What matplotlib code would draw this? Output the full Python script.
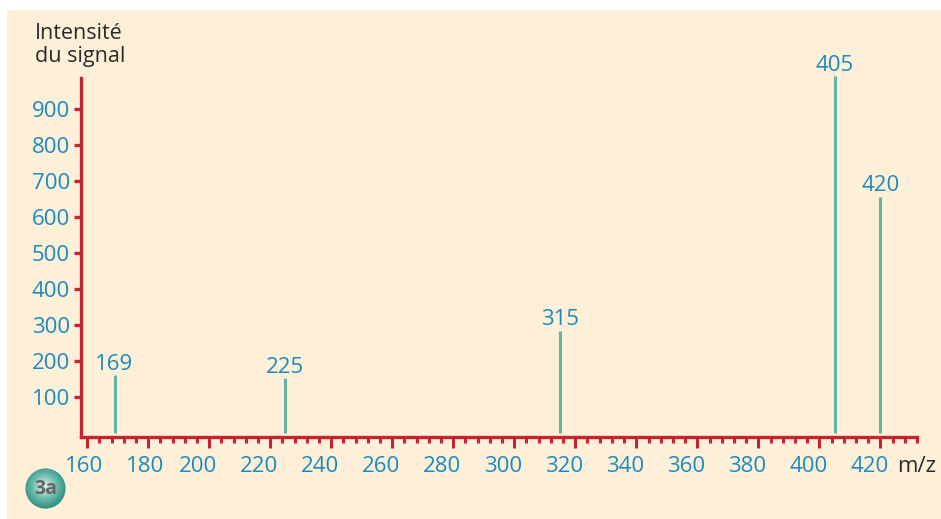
import matplotlib.pyplot as plt
from matplotlib.patches import Circle
from matplotlib.ticker import MultipleLocator
from matplotlib.transforms import ScaledTranslation
from matplotlib.colors import LinearSegmentedColormap
import numpy as np

# mass spectrum peaks (m/z, signal)
peak_mz = [169, 225, 315, 405, 420]
peak_int = [160, 152, 283, 990, 655]
peak_labels = ["169", "225", "315", "405", "420"]

y_ticks = [100, 200, 300, 400, 500, 600, 700, 800, 900]
x_ticks = [160, 180, 200, 220, 240, 260, 280, 300, 320, 340, 360, 380, 400, 420]

CREAM = "#FEF0D8"
RED = "#C62232"
BLUE = "#1A8BBF"
TEAL = "#62B5A6"
DARK = "#2B2B2B"
FS = 16

plt.rcParams['font.family'] = ['Open Sans', 'DejaVu Sans']
W, H = 941, 519
fig = plt.figure(figsize=(W / 100, H / 100), dpi=100)
fig.patch.set_facecolor("white")

# cream panel behind everything
bg = fig.add_axes([7 / W, 0, 1 - 7 / W, 1 - 10 / H])
bg.set_facecolor(CREAM)
bg.set_xticks([])
bg.set_yticks([])
for s in bg.spines.values():
    s.set_visible(False)
bg.set_zorder(0)

ax = fig.add_axes([81 / W, 82 / H, (917 - 81) / W, (437 - 78) / H])
ax.set_zorder(1)
ax.patch.set_alpha(0)
ax.set_xlim(158, 432)
ax.set_ylim(-11, 985)

ax.vlines(peak_mz, 0, peak_int, colors=TEAL, linewidth=2.2, clip_on=False, zorder=2)
for mz, v, lab in zip(peak_mz, peak_int, peak_labels):
    ax.annotate(lab, (mz, v), xytext=(0, 0.5), textcoords="offset points",
                ha="center", va="bottom", color=BLUE, fontsize=FS,
                annotation_clip=False)

for side in ("top", "right"):
    ax.spines[side].set_visible(False)
for side in ("left", "bottom"):
    ax.spines[side].set_color(RED)
    ax.spines[side].set_linewidth(2.4)
    ax.spines[side].set_zorder(3)

ax.set_yticks(y_ticks)
ax.set_yticklabels([str(t) for t in y_ticks])
ax.set_xticks(x_ticks)
ax.set_xticklabels([str(t) for t in x_ticks])
ax.xaxis.set_minor_locator(MultipleLocator(4))

ax.tick_params(axis="y", direction="out", length=5, width=2.4, color=RED,
               labelcolor=BLUE, labelsize=FS, pad=3)
ax.tick_params(axis="x", which="major", direction="out", length=8, width=2.2,
               color=RED, labelcolor=BLUE, labelsize=FS, pad=5.5)
ax.tick_params(axis="x", which="minor", direction="out", length=4.5, width=2.2,
               color=RED)

# labels in the original sit a little left of their ticks
for i, lbl in enumerate(ax.get_xticklabels()):
    dx = -3 if i < 2 else -11
    lbl.set_transform(lbl.get_transform() + ScaledTranslation(dx / 100, 0, fig.dpi_scale_trans))

fig.text(35 / W, 1 - 23 / H, "Intensité\ndu signal", ha="left", va="top",
         color=DARK, fontsize=15.5, linespacing=1.15)
fig.text(897 / W, 1 - 466 / H, "m/z", ha="left", va="center",
         color=DARK, fontsize=FS)

# "3a" badge with radial shading
bx = fig.add_axes([25 / W, 1 - 509 / H, 41 / W, 41 / H])
bx.set_xlim(0, 1)
bx.set_ylim(0, 1)
bx.axis("off")
gy, gx = np.mgrid[0:1:200j, 0:1:200j]
r = np.sqrt((gx - 0.48) ** 2 + (gy - 0.45) ** 2)
img = bx.imshow(np.clip(r / 0.6, 0, 1), extent=(0, 1, 0, 1), origin="upper",
                cmap=LinearSegmentedColormap.from_list(
                    "badge", ["#E2F2EE", "#6BBBAD", "#1E8275"]))
clip = Circle((0.5, 0.5), 0.49, transform=bx.transAxes)
img.set_clip_path(clip)
bx.text(0.5, 0.5, "3a", ha="center", va="center", color="#666666",
        fontsize=14, fontweight="bold")

fig.savefig("out.png", dpi=100)
